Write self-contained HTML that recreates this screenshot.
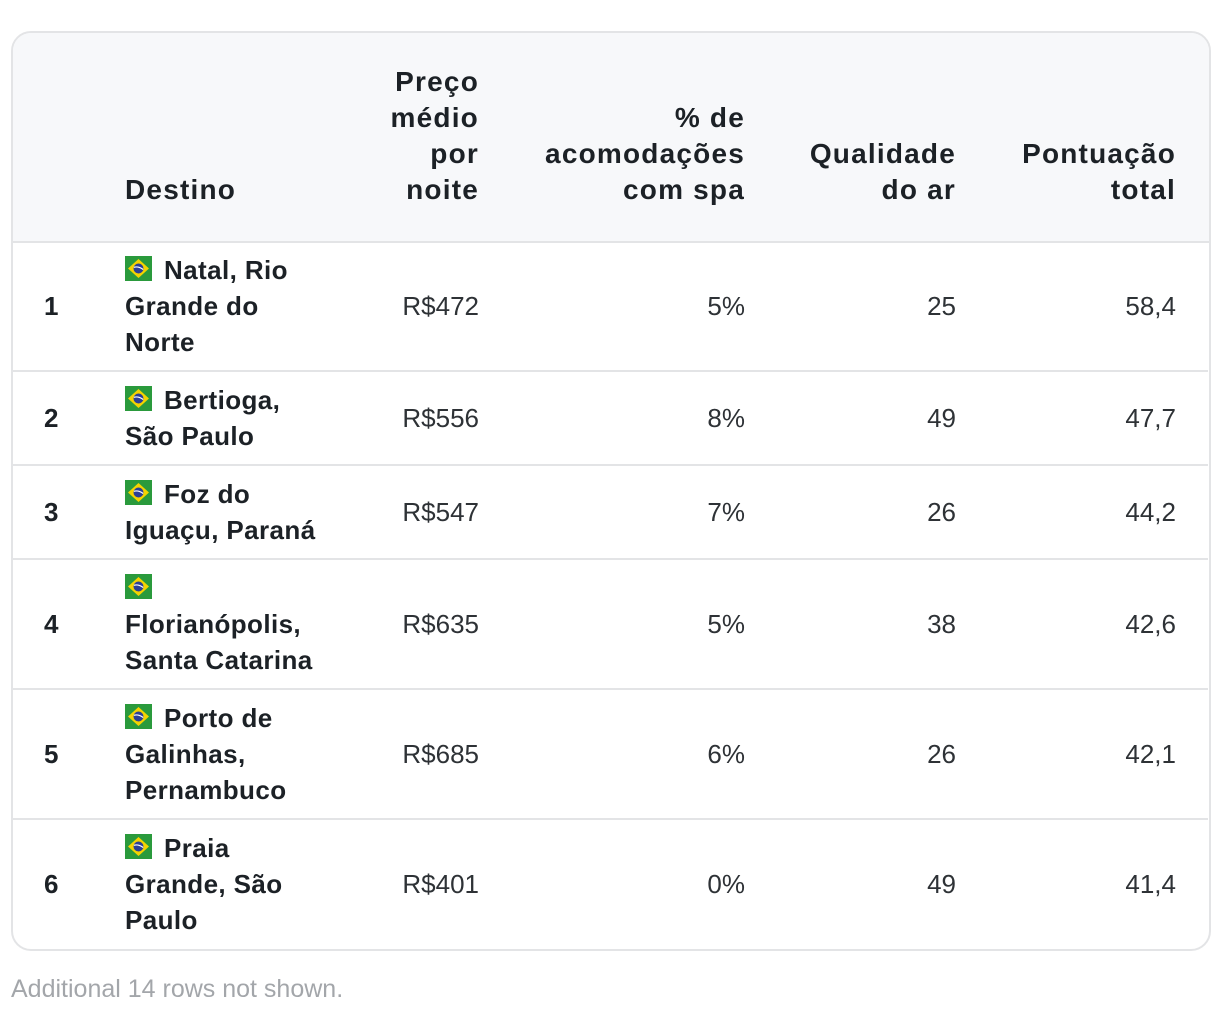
<!DOCTYPE html>
<html><head><meta charset="utf-8"><style>
body{margin:0;width:1220px;height:1016px;background:#fff;position:relative;font-family:"Liberation Sans",sans-serif;overflow:hidden}
.card{position:absolute;left:11px;top:31px;width:1196px;height:916px;border:2px solid #e3e4e6;border-radius:20px;overflow:hidden;background:#fff}
.head{position:absolute;left:0;top:0;width:100%;height:208px;background:#f7f8fa;border-bottom:2px solid #e3e4e6}
.t{position:absolute;font-size:26px;line-height:36px;white-space:nowrap;color:#2e3236}
.b{font-weight:bold;color:#1c2126;letter-spacing:0.4px}
.h{font-size:28px;letter-spacing:1.2px}
.r{text-align:right}
.sep{position:absolute;left:0;width:100%;height:2px;background:#e3e4e6}
.flag{display:inline-block;width:27px;height:25px;vertical-align:-2px;margin-right:12px}
.note{position:absolute;left:11px;top:975px;font-size:25px;color:#a3a6aa}
</style></head><body>
<div class="card">
<div class="head"></div>
</div>
<div id="layer"></div>
<div class="note">Additional 14 rows not shown.</div>
<script>
const headers=[["Destino"],["Preço","médio","por","noite"],["% de","acomodações","com spa"],["Qualidade","do ar"],["Pontuação","total"]];
const ranks=["1","2","3","4","5","6"];
const names=[["Natal, Rio","Grande do","Norte"],["Bertioga,","São Paulo"],["Foz do","Iguaçu, Paraná"],["","Florianópolis,","Santa Catarina"],["Porto de","Galinhas,","Pernambuco"],["Praia","Grande, São","Paulo"]];
const prices=["R$472","R$556","R$547","R$635","R$685","R$401"];
const spa=["5%","8%","7%","5%","6%","0%"];
const air=["25","49","26","38","26","49"];
const total=["58,4","47,7","44,2","42,6","42,1","41,4"];
const L=document.getElementById('layer');
const flagSVG='<svg class="flag" viewBox="0 0 27 25"><rect width="27" height="25" fill="#2a9a3c"/><polygon points="13.5,3 24,12.5 13.5,22 3,12.5" fill="#f5d300"/><circle cx="13.5" cy="12.5" r="5" fill="#2c3f95"/><path d="M8.8,11.3 Q13.5,10 18.2,13.5" stroke="#fff" stroke-width="1.2" fill="none"/></svg>';
function txt(s,x,y,cls,right,name){const d=document.createElement('div');d.className='t '+cls+(right?' r':'');


if(right){d.style.right=(1220-x)+'px';}else d.style.left=x+'px';d.style.top=y+'px';d.innerHTML=s;L.appendChild(d);return d;}
const hx=[[125,false],[479,true],[745,true],[956,true],[1176,true]];
headers.forEach((h,i)=>{const n=h.length;txt(h.join('<br>'),hx[i][0],190-18-(n-1)*36,'b h',hx[i][1],'header-'+i);});
const bounds=[241,371,465,559,689,819,949];
ranks.forEach((rk,i)=>{const c=(bounds[i]+bounds[i+1])/2;const n=names[i].length;
txt(rk,44,c-18,'b',false,'rank-'+rk);
const lines=names[i].slice();lines[0]=flagSVG+lines[0];
txt(lines.join('<br>'),125,c-18*n,'b',false,'destination-'+rk);
txt(prices[i],479,c-18,'',true,'price-'+rk);
txt(spa[i],745,c-18,'',true,'spa-'+rk);
txt(air[i],956,c-18,'',true,'air-quality-'+rk);
txt(total[i],1176,c-18,'',true,'total-score-'+rk);
if(i<ranks.length-1){const s=document.createElement('div');s.className='sep';s.style.left='12px';s.style.width='1196px';s.style.top=(bounds[i+1]-1)+'px';


L.appendChild(s);}
});
</script>
</body></html>
